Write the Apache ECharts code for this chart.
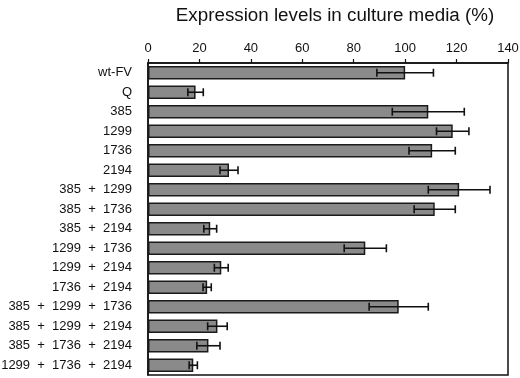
<!DOCTYPE html>
<html>
<head>
<meta charset="utf-8">
<script src="https://cdn.jsdelivr.net/npm/echarts@6/dist/echarts.min.js"></script>
<style>
  html, body { margin: 0; padding: 0; background: #fff; }
  #main { width: 520px; height: 378px; }
</style>
</head>
<body>
<div id="main"></div>
<script>
// constructs, top to bottom
var categories = [
  'wt-FV', 'Q', '385', '1299', '1736', '2194',
  '385  +  1299', '385  +  1736', '385  +  2194',
  '1299  +  1736', '1299  +  2194', '1736  +  2194',
  '385  +  1299  +  1736', '385  +  1299  +  2194',
  '385  +  1736  +  2194', '1299  +  1736  +  2194'
]
// mean expression (%)
var levels = [100, 18.5, 109, 118.5, 110.5, 31.5, 121, 111.5, 24.2, 84.5, 28.5, 23, 97.5, 27, 23.5, 17.6]
// error (+/-)
var errors = [11, 3, 14, 6.3, 9, 3.5, 12, 8, 2.5, 8.2, 2.7, 1.6, 11.5, 3.8, 4.5, 1.6]
var xTicks = [0, 20, 40, 60, 80, 100, 120, 140]

var errData = levels.map(function (v, i) {
  return [i, v - errors[i], v + errors[i]]
})

var chart = echarts.init(document.getElementById('main'))
var option = {
  animation: false,
  title: {
    text: 'Expression levels in culture media (%)',
    left: 330,
    textAlign: 'center',
    top: 1,
    textStyle: {
      fontFamily: 'Liberation Sans',
      fontWeight: 'normal',
      fontSize: 18.8,
      color: '#111'
    }
  },
  grid: {
    left: 148,
    right: 12,
    top: 63,
    bottom: 3,
    outerBoundsMode: 'none',
    show: true,
    borderColor: '#111',
    borderWidth: 1.5,
    backgroundColor: 'transparent'
  },
  xAxis: {
    type: 'value',
    position: 'top',
    min: xTicks[0],
    max: xTicks[xTicks.length - 1],
    interval: 20,
    splitLine: { show: false },
    axisLine: { show: true, lineStyle: { color: '#111', width: 1.5 } },
    axisTick: { show: true, length: 4, lineStyle: { color: '#111', width: 1.2 } },
    axisLabel: {
      margin: 8,
      color: '#111',
      fontFamily: 'Liberation Sans',
      fontSize: 13
    }
  },
  yAxis: {
    type: 'category',
    inverse: true,
    data: categories,
    axisLine: { show: true, lineStyle: { color: '#111', width: 1.5 } },
    axisTick: { show: false },
    axisLabel: {
      margin: 16,
      color: '#111',
      fontFamily: 'Liberation Sans',
      fontSize: 13
    }
  },
  series: [
    {
      type: 'bar',
      data: levels,
      barCategoryGap: '30%',
      itemStyle: {
        color: '#8a8a8a',
        borderColor: '#1a1a1a',
        borderWidth: 1.5
      },
      z: 2
    },
    {
      type: 'custom',
      data: errData,
      z: 3,
      renderItem: function (params, api) {
        var idx = api.value(0)
        var lo = api.coord([api.value(1), idx])
        var hi = api.coord([api.value(2), idx])
        var h = 4
        var style = { stroke: '#111', lineWidth: 1.6 }
        return {
          type: 'group',
          children: [
            { type: 'line', shape: { x1: lo[0], y1: lo[1], x2: hi[0], y2: hi[1] }, style: style },
            { type: 'line', shape: { x1: lo[0], y1: lo[1] - h, x2: lo[0], y2: lo[1] + h }, style: style },
            { type: 'line', shape: { x1: hi[0], y1: hi[1] - h, x2: hi[0], y2: hi[1] + h }, style: style }
          ]
        }
      }
    }
  ]
}
chart.setOption(option)
</script>
</body>
</html>
